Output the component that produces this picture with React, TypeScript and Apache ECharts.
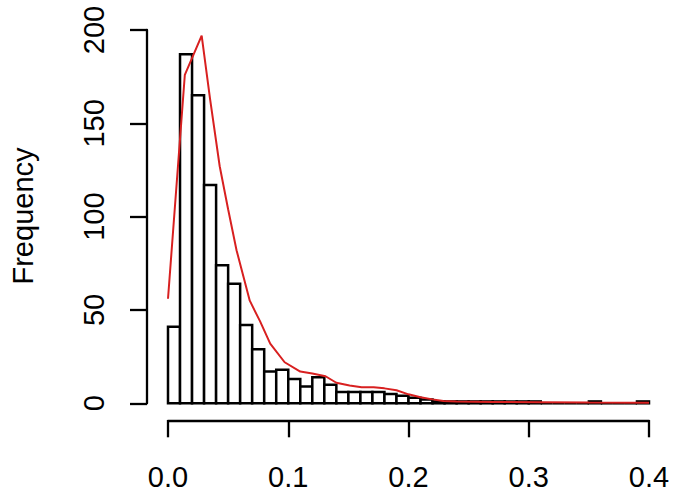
import React, { useEffect, useRef } from "react";
import * as echarts from "echarts";

// Histogram bins (width 0.01, from 0.00 to 0.40)
const binWidth = 0.01;
const counts = [
  41, 187, 165, 117, 74, 64, 42, 29, 17, 18,
  13, 9, 14, 10, 6, 6, 6, 6, 5, 4,
  3, 2, 1, 1, 1, 1, 1, 1, 1, 1,
  1, 0, 0, 0, 0, 1, 0, 0, 0, 1,
];

// Red overlay line (x, frequency)
const lineX = [
  0, 0.014, 0.028, 0.035, 0.043, 0.05, 0.057, 0.068, 0.0765, 0.085,
  0.097, 0.11, 0.12, 0.131, 0.14, 0.151, 0.161, 0.171, 0.18, 0.19,
  0.2, 0.21, 0.22, 0.229, 0.24, 0.27, 0.31, 0.35, 0.4,
];
const lineY = [
  56, 176, 197, 163, 127, 104, 82, 55, 44, 32,
  22, 17, 16, 14.5, 11, 9.5, 8.6, 8.6, 8, 7,
  4.8, 3.2, 2.1, 1.2, 0.9, 0.7, 0.6, 0.4, 0.3,
];

const xTicks = [0, 0.1, 0.2, 0.3, 0.4];
const yTicks = [0, 50, 100, 150, 200];

const FONT = "Liberation Sans, Arial, sans-serif";

export default function App() {
  const ref = useRef<HTMLDivElement>(null);
  useEffect(() => {
    if (!ref.current) return;
    const chart = echarts.init(ref.current, undefined, { renderer: "svg" });
    const barData = counts.map((c, i) => [i * binWidth, (i + 1) * binWidth, c]);
    const lineData = lineX.map((x, i) => [x, lineY[i]]);
    chart.setOption({
      animation: false,
      backgroundColor: "#ffffff",
      grid: { left: 168, right: 26, top: 30, bottom: 93.7, containLabel: false },
      xAxis: {
        type: "value",
        min: xTicks[0],
        max: xTicks[xTicks.length - 1],
        interval: 0.1,
        offset: 17,
        axisLine: { show: true, onZero: false, lineStyle: { color: "#000", width: 2.3 } },
        axisTick: { show: true, length: 17, lineStyle: { color: "#000", width: 2.3 } },
        axisLabel: {
          margin: 42,
          color: "#000",
          fontSize: 29,
          fontFamily: FONT,
          formatter: (v: number) => v.toFixed(1),
        },
        splitLine: { show: false },
      },
      yAxis: {
        type: "value",
        min: yTicks[0],
        max: yTicks[yTicks.length - 1],
        interval: 50,
        offset: 21,
        axisLine: { show: true, onZero: false, lineStyle: { color: "#000", width: 2.3 } },
        axisTick: { show: true, length: 17, lineStyle: { color: "#000", width: 2.3 } },
        axisLabel: {
          rotate: 90,
          margin: 39,
          color: "#000",
          fontSize: 29,
          fontFamily: FONT,
        },
        splitLine: { show: false },
      },
      graphic: [
        {
          type: "text",
          x: 23,
          y: 216,
          rotation: Math.PI / 2,
          style: {
            text: "Frequency",
            font: `29px ${FONT}`,
            fill: "#000",
            textAlign: "center",
            textVerticalAlign: "middle",
          },
        },
      ],
      series: [
        {
          type: "custom",
          data: barData,
          encode: { x: [0, 1], y: 2 },
          renderItem: (params: any, api: any) => {
            const x0 = api.value(0);
            const x1 = api.value(1);
            const c = api.value(2);
            const p0 = api.coord([x0, c]);
            const p1 = api.coord([x1, 0]);
            if (c === 0) {
              return {
                type: "line",
                shape: { x1: p0[0], y1: p1[1], x2: p1[0], y2: p1[1] },
                style: { stroke: "#000", lineWidth: 2.5 },
              };
            }
            return {
              type: "rect",
              shape: { x: p0[0], y: p0[1], width: p1[0] - p0[0], height: p1[1] - p0[1] },
              style: { fill: "#fff", stroke: "#000", lineWidth: 2.5 },
            };
          },
          z: 2,
        },
        {
          type: "line",
          data: lineData,
          showSymbol: false,
          symbol: "none",
          lineStyle: { color: "#d82020", width: 2 },
          z: 5,
        },
      ],
    });
    return () => chart.dispose();
  }, []);
  return (
    <div
      ref={ref}
      style={{ position: "fixed", left: 0, top: 0, width: 675, height: 497, background: "#fff" }}
    />
  );
}
